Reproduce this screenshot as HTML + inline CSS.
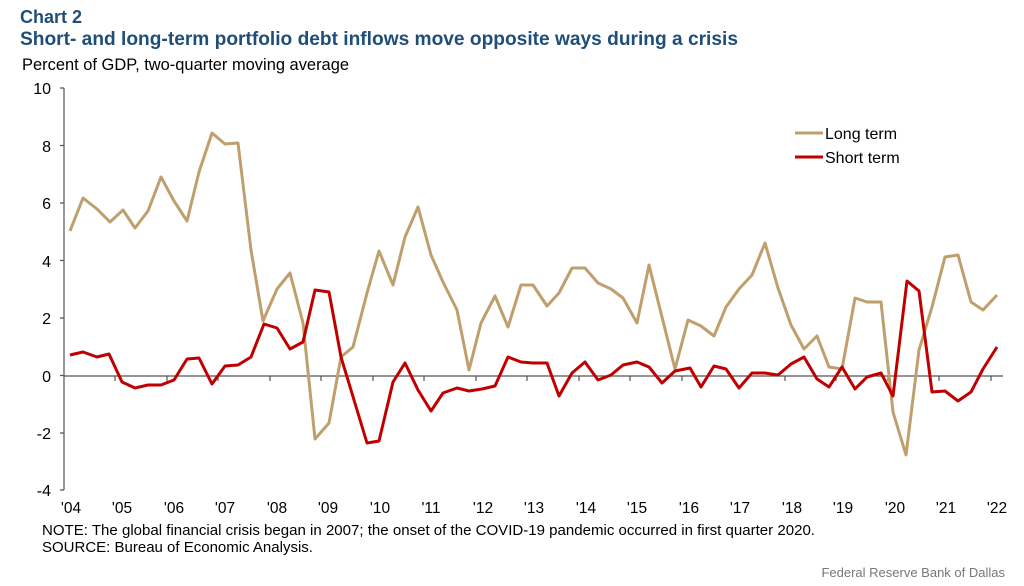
<!DOCTYPE html><html><head><style>body{margin:0;background:#fff;font-family:"Liberation Sans",sans-serif}</style></head><body>
<svg width="1024" height="581" xmlns="http://www.w3.org/2000/svg" font-family="Liberation Sans, sans-serif">
<text x="20" y="23" font-size="18" font-weight="bold" fill="#1f4e79">Chart 2</text>
<text x="20" y="45" font-size="19" font-weight="bold" fill="#1f4e79" textLength="718" lengthAdjust="spacingAndGlyphs">Short- and long-term portfolio debt inflows move opposite ways during a crisis</text>
<text x="22" y="70" font-size="16.5" fill="#000" textLength="327" lengthAdjust="spacingAndGlyphs">Percent of GDP, two-quarter moving average</text>
<g font-size="16" text-anchor="end" fill="#000">
<text x="51" y="94">10</text><text x="51" y="152">8</text><text x="51" y="209">6</text><text x="51" y="267">4</text><text x="51" y="324">2</text><text x="51" y="382">0</text><text x="51" y="439">-2</text><text x="51" y="496">-4</text></g>
<g stroke="#555" stroke-width="1.2" fill="none">
<line x1="64" y1="88" x2="64" y2="490"/>
<path d="M60 88H64M60 145.5H64M60 203H64M60 260.5H64M60 318H64M60 375.5H64M60 433H64M60 490H64"/>
<line x1="64" y1="376" x2="1003" y2="376"/>
<path d="M115 376v5M167 376v5M218 376v5M270 376v5M321 376v5M373 376v5M424 376v5M476 376v5M527 376v5M579 376v5M630 376v5M682 376v5M733 376v5M785 376v5M836 376v5M888 376v5M939 376v5M991 376v5"/>
</g>
<g font-size="15.5" text-anchor="middle" fill="#000">
<text x="71" y="513">'04</text><text x="122" y="513">'05</text><text x="174" y="513">'06</text><text x="225" y="513">'07</text><text x="277" y="513">'08</text><text x="328" y="513">'09</text><text x="380" y="513">'10</text><text x="431" y="513">'11</text><text x="483" y="513">'12</text><text x="534" y="513">'13</text><text x="586" y="513">'14</text><text x="637" y="513">'15</text><text x="689" y="513">'16</text><text x="740" y="513">'17</text><text x="792" y="513">'18</text><text x="843" y="513">'19</text><text x="895" y="513">'20</text><text x="946" y="513">'21</text><text x="997" y="513">'22</text></g>
<polyline fill="none" stroke="#bf9f6d" stroke-width="3" stroke-linejoin="round" points="70,231 83,198 97,209 110,222 123,210 135,228 148,211 161,177 174,201 187,221 199,172 212,133 225,144 238,143 251,250 263,321 277,289 290,273 303,323 315,439 329,423 341,357 353,347 367,293 379,251 393,285 405,237 418,207 431,255 443,282 457,310 469,370 481,323 495,296 508,327 521,285 533,285 547,306 559,293 572,268 585,268 598,283 611,289 623,298 637,323 649,265 662,317 675,369 688,320 701,326 714,336 726,307 739,289 752,275 765,243 778,288 791,325 804,349 817,336 829,367 842,369 855,298 867,302 881,302 893,412 906,455 919,350 932,307 945,257 958,255 971,302 983,310 997,295"/>
<polyline fill="none" stroke="#c00000" stroke-width="3" stroke-linejoin="round" points="70,355 83,352 97,357 109,354 122,382 135,388 148,385 161,385 174,380 187,359 199,358 212,384 225,366 238,365 251,357 264,324 277,328 290,349 303,342 315,290 329,292 341,357 354,400 367,443 379,441 393,382 405,363 418,390 431,411 443,393 457,388 469,391 482,389 495,386 508,357 521,362 533,363 547,363 559,396 572,373 585,362 598,380 611,375 623,365 637,362 649,367 662,383 675,371 690,368 701,387 714,366 726,369 739,388 752,373 765,373 778,375 791,364 804,357 817,379 829,387 842,367 855,389 867,377 881,373 893,396 907,281 919,291 932,392 945,391 958,401 971,392 983,369 997,347"/>
<line x1="795" y1="133" x2="823" y2="133" stroke="#bf9f6d" stroke-width="3"/>
<line x1="795" y1="157" x2="823" y2="157" stroke="#c00000" stroke-width="3"/>
<text x="825" y="139" font-size="16">Long term</text>
<text x="825" y="163" font-size="16">Short term</text>
<text x="42" y="535" font-size="15" textLength="773" lengthAdjust="spacingAndGlyphs">NOTE: The global financial crisis began in 2007; the onset of the COVID-19 pandemic occurred in first quarter 2020.</text>
<text x="42" y="552" font-size="15">SOURCE: Bureau of Economic Analysis.</text>
<text x="1005" y="577" font-size="13" fill="#777" text-anchor="end">Federal Reserve Bank of Dallas</text>
</svg></body></html>
